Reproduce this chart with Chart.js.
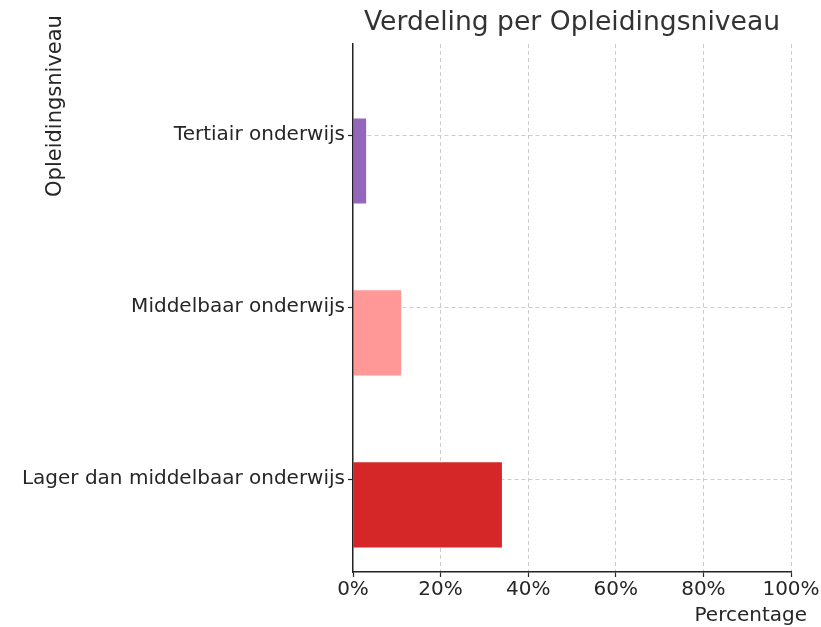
<!DOCTYPE html>
<html>
<head>
<meta charset="utf-8">
<script src="https://cdn.jsdelivr.net/npm/chart.js@4/dist/chart.umd.min.js"></script>
<style>
    html, body { margin: 0; padding: 0; background: #fff; }
    #wrap { width: 821px; height: 627px; }
</style>
</head>
<body>
<div id="wrap"><canvas id="chart" width="821" height="627"></canvas></div>
<script>
// data (top category first)
const niveaus = ['Tertiair onderwijs', 'Middelbaar onderwijs', 'Lager dan middelbaar onderwijs'];
const percentages = [3, 11, 34];
const barColors = ['#9467bd', '#ff9896', '#d62728'];
const xTicks = [0, 20, 40, 60, 80, 100];

const chartTitle = 'Verdeling per Opleidingsniveau';
const yTitle = 'Opleidingsniveau';
const xTitle = 'Percentage';

const FONT = 'DejaVu Sans';

// titles are placed like the original matplotlib figure, so drawn by hand
const titlesPlugin = {
    id: 'titles',
    afterDraw(chart) {
        const ctx = chart.ctx;
        const area = chart.chartArea;
        ctx.save();
        ctx.fillStyle = '#333333';
        ctx.font = `26.6px "${FONT}"`;
        ctx.textAlign = 'center';
        ctx.textBaseline = 'middle';
        ctx.fillText(chartTitle, (area.left + area.right) / 2, 23);

        ctx.fillStyle = '#262626';
        ctx.font = `20px "${FONT}"`;
        ctx.textAlign = 'right';
        ctx.fillText(xTitle, 807, 616);

        ctx.font = `21px "${FONT}"`;
        ctx.translate(56, 106);
        ctx.rotate(-Math.PI / 2);
        ctx.textAlign = 'center';
        ctx.fillText(yTitle, 0, 0);
        ctx.restore();
    }
};

// category i sits at value i on a reversed linear axis (top first)
const points = percentages.map((p, i) => ({ x: p, y: i }));
const emptyPoints = percentages.map((p, i) => ({ x: null, y: i }));

const ctx = document.getElementById('chart').getContext('2d');
new Chart(ctx, {
    type: 'bar',
    data: {
        datasets: [
            // empty group slot, the bars sit in the lower half like the original
            { data: emptyPoints, backgroundColor: 'rgba(0,0,0,0)' },
            {
                data: points,
                backgroundColor: barColors,
                borderWidth: 0
            }
        ]
    },
    options: {
        indexAxis: 'y',
        responsive: false,
        animation: false,
        categoryPercentage: 0.6,
        barPercentage: 1.65,
        layout: { padding: { top: 44, right: 30, left: 0, bottom: 0 } },
        plugins: {
            legend: { display: false },
            title: { display: false },
            tooltip: { enabled: false }
        },
        scales: {
            x: {
                type: 'linear',
                min: 0,
                max: 100,
                afterBuildTicks: (scale) => {
                    scale.ticks = xTicks.map(v => ({ value: v }));
                },
                afterFit: (scale) => { scale.height = 55; },
                ticks: {
                    color: '#262626',
                    font: { family: FONT, size: 20 },
                    padding: 1,
                    callback: (v) => v + '%'
                },
                grid: {
                    color: (c) => (c.tick && c.tick.value === 0) ? 'rgba(0,0,0,0)' : '#cccccc',
                    lineWidth: 1,
                    tickLength: 5,
                    tickColor: '#262626',
                    tickWidth: 1.2,
                    tickBorderDash: []
                },
                border: { color: '#222222', width: 1.5, dash: [4, 3], z: 1 }
            },
            y: {
                type: 'linear',
                reverse: true,
                offset: false,
                min: -0.53,
                max: 2.54,
                afterBuildTicks: (scale) => {
                    scale.ticks = niveaus.map((n, i) => ({ value: i }));
                },
                afterFit: (scale) => { scale.width = 353; },
                ticks: {
                    color: '#262626',
                    font: { family: FONT, size: 20 },
                    padding: 3,
                    callback: (v) => niveaus[v]
                },
                grid: {
                    offset: false,
                    color: '#cccccc',
                    lineWidth: 1,
                    tickLength: 5,
                    tickColor: '#262626',
                    tickWidth: 1.2,
                    tickBorderDash: []
                },
                border: { color: '#222222', width: 1.5, dash: [4, 3], z: 1 }
            }
        }
    },
    plugins: [titlesPlugin]
});
</script>
</body>
</html>
